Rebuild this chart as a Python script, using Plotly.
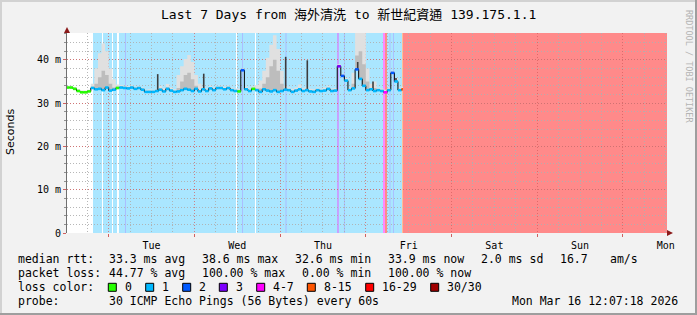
import numpy as np
import pandas as pd
import plotly.graph_objects as go

# ---------------- data ----------------
TITLE = "Last 7 Days from 海外清洗 to 新世紀資通 139.175.1.1"
X_START = "2026-03-09 12:20"
X_END = "2026-03-16 12:20"
DATA_START = "2026-03-09 12:00"     # first hourly sample
DATA_END = "2026-03-13 10:25"       # last sample ends here
Y_MAX = 46.2

y_tickvals = [0, 10, 20, 30, 40]
y_ticktext = ["0", "10 m", "20 m", "30 m", "40 m"]

# median rtt (ms), hourly
median_ms = [33.6,
    33.6, 33.3, 32.8, 32.5, 32.5, 32.7, 33.5, 33.2, 33.3, 33.0,
    33.6, 32.9, 33.1, 33.5, 33.6, 33.5, 33.4, 33.6, 33.3, 33.5,
    33.1, 32.6, 32.6, 32.6, 32.8, 33.1, 32.7, 33.3, 32.9, 32.6,
    32.7, 33.0, 33.3, 33.1, 32.8, 33.3, 32.7, 33.2, 32.8, 33.4,
    33.0, 33.5, 33.5, 33.2, 33.5, 33.0, 32.8, 32.7, 37.6, 33.2,
    32.8, 33.3, 33.0, 32.6, 33.2, 32.9, 32.7, 33.0, 32.6, 32.8,
    33.1, 33.0, 32.6, 32.9, 33.2, 32.8, 33.0, 32.7, 32.6, 33.0,
    32.8, 32.9, 33.3, 32.8, 32.9, 38.5, 36.3, 35.2, 33.0, 33.4,
    37.8, 35.6, 34.0, 33.0, 33.2, 32.8, 33.0, 32.8, 32.5, 33.0,
    37.0, 35.0, 33.0, 33.2]

# loss class per sample: 0:"0" 1:"1" 2:"2" 3:"3" 4:"4-7" 5:"8-15" 6:"16-29" 7:"30/30"
loss_class = [0,
    0, 0, 0, 0, 0, 0, 1, 1, 1, 1,
    1, 1, 1, 0, 1, 1, 1, 1, 1, 1,
    1, 1, 1, 1, 1, 1, 1, 1, 1, 1,
    1, 1, 1, 1, 1, 1, 1, 1, 1, 1,
    1, 1, 1, 1, 1, 1, 1, 0, 2, 1,
    1, 0, 1, 1, 1, 1, 1, 1, 1, 1,
    1, 1, 1, 1, 1, 1, 1, 1, 1, 1,
    1, 1, 1, 1, 1, 3, 2, 1, 1, 1,
    2, 1, 1, 1, 1, 1, 1, 1, 4, 1,
    2, 1, 1, 5]

# smoke: upper envelope and inner (denser) band, ms
smoke_hi = [34.0,
    34.0, 33.7, 33.2, 32.9, 32.9, 33.1, 34.5, 38.0, 41.5, 43.8,
    42.0, 38.0, 35.5, 34.3, 34.2, 34.0, 33.9, 34.1, 33.8, 34.0,
    33.6, 33.1, 33.2, 33.1, 33.4, 34.0, 33.5, 34.4, 33.6, 33.2,
    36.5, 38.5, 40.2, 41.1, 39.5, 36.5, 34.5, 33.8, 33.4, 34.0,
    33.6, 34.0, 34.0, 33.8, 34.1, 33.6, 33.4, 33.3, 38.0, 33.8,
    33.4, 33.9, 34.2, 35.2, 37.5, 40.5, 43.5, 45.7, 42.5, 37.5,
    34.0, 33.6, 33.3, 33.6, 34.3, 33.5, 33.8, 33.3, 33.2, 33.6,
    33.4, 33.6, 34.0, 33.4, 33.5, 39.0, 36.8, 35.8, 33.6, 37.0,
    47.0, 48.0, 46.5, 38.0, 34.5, 35.0, 33.6, 33.4, 33.1, 33.6,
    37.5, 35.8, 33.6, 33.8]
smoke_mid = [33.8,
    33.8, 33.5, 33.0, 32.7, 32.7, 32.9, 33.8, 34.5, 36.0, 37.5,
    36.5, 34.5, 33.6, 33.8, 33.9, 33.8, 33.6, 33.9, 33.5, 33.7,
    33.3, 32.8, 32.8, 32.8, 33.0, 33.4, 32.9, 33.6, 33.1, 32.8,
    33.5, 35.0, 36.5, 37.0, 35.5, 34.0, 33.0, 33.4, 33.0, 33.6,
    33.2, 33.7, 33.7, 33.4, 33.7, 33.2, 33.0, 32.9, 37.8, 33.4,
    33.0, 33.5, 33.3, 33.4, 34.5, 36.0, 38.5, 40.0, 37.5, 34.5,
    33.3, 33.2, 32.8, 33.1, 33.4, 33.0, 33.2, 32.9, 32.8, 33.2,
    33.0, 33.1, 33.5, 33.0, 33.1, 38.7, 36.5, 35.4, 33.2, 34.5,
    41.0, 42.0, 39.0, 35.0, 33.5, 33.5, 33.2, 33.0, 32.7, 33.2,
    37.2, 35.2, 33.2, 33.4]

# isolated high pings (dark smoke spikes)
spike_times = ["2026-03-10 13:44", "2026-03-11 02:37", "2026-03-12 01:34",
               "2026-03-12 07:37", "2026-03-12 21:44", "2026-03-13 02:01",
               "2026-03-13 08:27"]
spike_tops = [36.7, 36.8, 40.7, 39.9, 39.5, 35.0, 35.8]

# loss background bands (start, end, class); 0 = white
bg_start = ["2026-03-09 19:37",
            "2026-03-09 22:08", "2026-03-10 00:56", "2026-03-10 02:20",
            "2026-03-11 11:39", "2026-03-11 16:58",
            "2026-03-10 04:34", "2026-03-11 13:20", "2026-03-12 01:30",
            "2026-03-12 17:53", "2026-03-13 06:38", "2026-03-13 07:37",
            "2026-03-12 15:56", "2026-03-13 04:49", "2026-03-13 05:22",
            "2026-03-13 10:08", "2026-03-13 10:25"]
bg_end = ["2026-03-13 10:08",
          "2026-03-09 22:25", "2026-03-10 01:13", "2026-03-10 02:53",
          "2026-03-11 11:56", "2026-03-11 17:15",
          "2026-03-10 04:51", "2026-03-11 13:37", "2026-03-12 01:48",
          "2026-03-12 18:10", "2026-03-13 06:55", "2026-03-13 07:53",
          "2026-03-12 16:29", "2026-03-13 05:22", "2026-03-13 05:56",
          "2026-03-13 10:25", "2026-03-16 12:20"]
bg_class = [1, 0, 0, 0, 0, 0, 2, 2, 2, 2, 2, 2, 3, 4, 6, 5, 7]

loss_labels = ["0", "1", "2", "3", "4-7", "8-15", "16-29", "30/30"]
loss_colors = ["#26ff00", "#00b8ff", "#0059ff", "#7e00ff", "#ff00ff",
               "#ff5500", "#ff0000", "#a00000"]
bg_colors = ["#FFFFFF", "#AAE6FF", "#AABEFF", "#C8A0FF", "#FF88FF",
             "#FFBE96", "#FF8A8A", "#FF8A8A"]

stats_rtt = ["median rtt:", "33.3 ms avg", "38.6 ms max", "32.6 ms min",
             "33.9 ms now", "2.0 ms sd", "16.7", "am/s"]
stats_loss = ["packet loss:", "44.77 % avg", "100.00 % max", "0.00 % min",
              "100.00 % now"]
probe_text = ["probe:", "30 ICMP Echo Pings (56 Bytes) every 60s"]
stamp_text = "Mon Mar 16 12:07:18 2026"

# ---------------- layout constants ----------------
W, H = 697, 315
L, R, T, B = 67, 30, 33, 82
PW, PH = W - L - R, H - T - B


def px(x):
    return (x - L) / PW


def py(y):
    return (H - B - y) / PH


rtt_x = [16, 107.3, 200, 293.3, 386, 479.3, 558.3, 607.7]
loss_x = [16, 107.3, 200, 300, 386]
probe_x = [16, 107.3]
box_x = [108.3, 145.7, 182.7, 219.3, 256.7, 307.3, 365.7, 430.7]
line_y = [259.3, 273.3, 287.3, 301.3]

MONO = "DejaVu Sans Mono, Noto Sans CJK TC, monospace"
RED_GRID = "rgba(215,95,95,0.75)"
GRAY_GRID = "rgba(175,175,175,0.9)"

times = pd.date_range(DATA_START, periods=len(median_ms), freq="h")
t_next = list(times[1:]) + [pd.Timestamp(DATA_END)]
x_step = list(times) + [pd.Timestamp(DATA_END)]

fig = go.Figure()

# smoke: upper light envelope
fig.add_trace(go.Scatter(x=x_step, y=median_ms + [median_ms[-1]], mode="lines",
                         line=dict(width=0, shape="hv"), hoverinfo="skip"))
fig.add_trace(go.Scatter(x=x_step, y=smoke_hi + [smoke_hi[-1]], mode="lines",
                         line=dict(width=0, shape="hv"), fill="tonexty",
                         fillcolor="#E0E0E0", hoverinfo="skip"))
fig.add_trace(go.Scatter(x=x_step, y=median_ms + [median_ms[-1]], mode="lines",
                         line=dict(width=0, shape="hv"), hoverinfo="skip"))
fig.add_trace(go.Scatter(x=x_step, y=smoke_mid + [smoke_mid[-1]], mode="lines",
                         line=dict(width=0, shape="hv"), fill="tonexty",
                         fillcolor="#BDBDBD", hoverinfo="skip"))

# dark smoke spikes
sx, sy = [], []
for t, top in zip(spike_times, spike_tops):
    ts = pd.Timestamp(t)
    k = max(0, int(np.searchsorted(times, ts, side="right")) - 1)
    sx += [ts, ts, None]
    sy += [median_ms[k], top, None]
fig.add_trace(go.Scatter(x=sx, y=sy, mode="lines",
                         line=dict(color="#3C3C3C", width=1.6), hoverinfo="skip"))

# median: thin black step line, then loss-coloured segments
fig.add_trace(go.Scatter(x=x_step, y=median_ms + [median_ms[-1]], mode="lines",
                         line=dict(color="#000000", width=1, shape="hv"),
                         hoverinfo="skip"))
for c, col in enumerate(loss_colors):
    xs, ys = [], []
    for j, cls in enumerate(loss_class):
        if cls == c:
            xs += [times[j], t_next[j], None]
            ys += [median_ms[j], median_ms[j], None]
    if xs:
        fig.add_trace(go.Scatter(x=xs, y=ys, mode="lines",
                                 line=dict(color=col, width=2.6),
                                 hoverinfo="skip"))

shapes = []
# loss background bands (below the grid)
for s, e, c in zip(bg_start, bg_end, bg_class):
    shapes.append(dict(type="rect", xref="x", yref="paper", x0=s, x1=e,
                       y0=0, y1=1, fillcolor=bg_colors[c], line_width=0,
                       layer="below"))

# image frame
shapes += [
    dict(type="rect", xref="paper", yref="paper", x0=px(0), x1=px(W),
         y0=py(0), y1=py(2), fillcolor="#D2D2D2", line_width=0),
    dict(type="rect", xref="paper", yref="paper", x0=px(0), x1=px(2),
         y0=py(0), y1=py(H), fillcolor="#D2D2D2", line_width=0),
    dict(type="rect", xref="paper", yref="paper", x0=px(0), x1=px(W),
         y0=py(H - 2), y1=py(H), fillcolor="#9E9E9E", line_width=0),
    dict(type="rect", xref="paper", yref="paper", x0=px(W - 2), x1=px(W),
         y0=py(0), y1=py(H), fillcolor="#9E9E9E", line_width=0),
]
# axis arrows
shapes += [
    dict(type="line", xref="paper", yref="paper", x0=0, x1=0, y0=1, y1=py(29),
         line=dict(color="#707070", width=1)),
    dict(type="path", xref="paper", yref="paper",
         path=f"M {px(64)} {py(33)} L {px(70)} {py(33)} L {px(67)} {py(27)} Z",
         fillcolor="#8B1A1A", line_width=0),
    dict(type="line", xref="paper", yref="paper", x0=1, x1=px(670), y0=0, y1=0,
         line=dict(color="#000000", width=2)),
    dict(type="path", xref="paper", yref="paper",
         path=f"M {px(667)} {py(230)} L {px(667)} {py(236)} L {px(673)} {py(233)} Z",
         fillcolor="#8B1A1A", line_width=0),
]
# legend colour boxes
for bx, col in zip(box_x, loss_colors):
    shapes.append(dict(type="rect", xref="paper", yref="paper",
                       x0=px(bx), x1=px(bx + 8), y0=py(line_y[2] + 4),
                       y1=py(line_y[2] - 4), fillcolor=col,
                       line=dict(color="#000000", width=1)))

ann = []


def text(s, x, y, anchor="left", size=11.5, family=MONO, color="#000000",
         angle=0):
    ann.append(dict(text=s, xref="paper", yref="paper", x=px(x), y=py(y),
                    xanchor=anchor, yanchor="middle", showarrow=False,
                    textangle=angle, font=dict(family=family, size=size,
                                               color=color)))


text(TITLE, 348.5, 14.5, anchor="center", size=13)
text("Seconds", 10, 132, anchor="center", size=11,
     family="DejaVu Sans, sans-serif", angle=-90)
text("RRDTOOL / TOBI OETIKER", 689, 66, anchor="center", size=8.5,
     color="#B4B4B4", angle=90)
for s, x in zip(stats_rtt, rtt_x):
    text(s, x, line_y[0])
for s, x in zip(stats_loss, loss_x):
    text(s, x, line_y[1])
text("loss color:", 16, line_y[2])
for lab, bx in zip(loss_labels, box_x):
    text(lab, bx + 14.7, line_y[2])
for s, x in zip(probe_text, probe_x):
    text(s, x, line_y[3])
text(stamp_text, 680, line_y[3], anchor="right")

fig.update_layout(
    width=W, height=H,
    margin=dict(l=L, r=R, t=T, b=B, pad=0),
    paper_bgcolor="#F2F2F2", plot_bgcolor="#FFFFFF",
    showlegend=False,
    shapes=shapes, annotations=ann,
    xaxis=dict(type="date", range=[X_START, X_END], tickmode="linear",
               tick0="2026-03-09", dtick=86400000, ticklabelmode="period",
               tickformat="%a", showgrid=True, gridcolor=RED_GRID,
               griddash="1px,2px", gridwidth=1,
               minor=dict(tickmode="linear", tick0="2026-03-09",
                          dtick=6 * 3600000, showgrid=True,
                          gridcolor=GRAY_GRID, griddash="1px,2px",
                          gridwidth=1),
               showline=False, zeroline=False,
               ticks="outside", ticklen=3, tickcolor="#D06060",
               tickfont=dict(family=MONO, size=10, color="#000000")),
    yaxis=dict(range=[0, Y_MAX], tickmode="array", tickvals=y_tickvals,
               ticktext=y_ticktext, showgrid=True, gridcolor=RED_GRID,
               griddash="1px,2px", gridwidth=1,
               minor=dict(tickmode="linear", tick0=0, dtick=2, showgrid=True,
                          gridcolor=GRAY_GRID, griddash="1px,2px",
                          gridwidth=1, ticks="outside", ticklen=2,
                          tickcolor="#909090"),
               showline=True, linecolor="#707070", linewidth=1,
               zeroline=False, ticks="outside", ticklen=3,
               tickcolor="#D06060",
               tickfont=dict(family=MONO, size=10, color="#000000")),
)

fig.write_html("out.html")
